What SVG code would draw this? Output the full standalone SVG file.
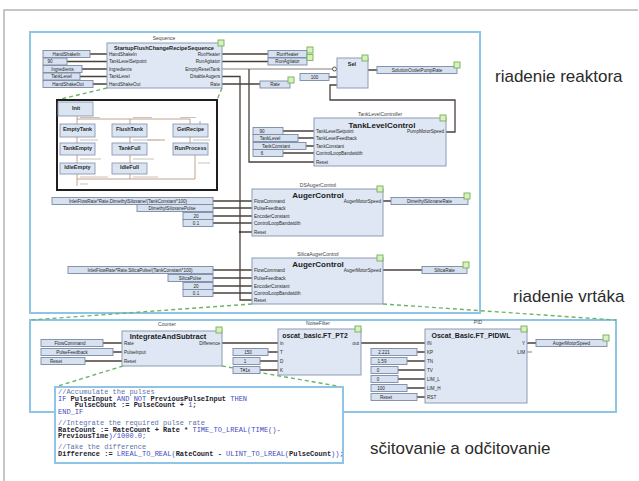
<svg xmlns="http://www.w3.org/2000/svg" width="639" height="481" viewBox="0 0 639 481">
<style>
  text { font-family: "Liberation Sans", Arial, sans-serif; fill: #2a2a2a; }
  .frame { fill: none; stroke: #b4b4b4; stroke-width: 1.5; }
  .pnl { fill: #ffffff; stroke: #8fc4e6; stroke-width: 2; }
  .blk { fill: #dee7f3; stroke: #8d9cb6; stroke-width: 1; }
  .inp { fill: #d7e1ef; stroke: #7b8aa6; stroke-width: 0.9; }
  .gsq { fill: #d9efc4; stroke: #74b24f; stroke-width: 0.9; }
  .wire { fill: none; stroke: #4a403b; stroke-width: 1.3; }
  .wl { fill: none; stroke: #7a706b; stroke-width: 0.9; }
  .dash { fill: none; stroke: #6cb46a; stroke-width: 1.4; stroke-dasharray: 4 3; }
  .tr { fill: none; stroke: #b98b6e; stroke-width: 0.8; }
  .lbl { fill: none; stroke: #c9c2bd; stroke-width: 1.2; }
  .sm { fill: #dbe5f2; stroke: #8a9ab3; stroke-width: 0.9; }
  .st { font-size: 5.5px; font-weight: bold; text-anchor: middle; }
  .p { font-size: 4.6px; }
  .pr { font-size: 4.6px; text-anchor: end; }
  .v { font-size: 4.6px; text-anchor: middle; }
  .cap { font-size: 5px; text-anchor: middle; fill: #444; }
  .ttl { font-weight: bold; text-anchor: middle; fill: #1c1c1c; }
  .big { font-size: 17px; fill: #2b2b2b; }
  .code { font-family: "Liberation Mono", "Courier New", monospace; font-size: 7px; }
  .cm { fill: #6272a8; }
  .kw { fill: #3f49c4; }
  .id { fill: #1d2330; font-weight: bold; }
</style>

<!-- page frame -->
<path class="frame" d="M4,481 V10 H638"/>

<!-- panels -->
<rect id="panel-sequence" class="pnl" x="30" y="32" width="450" height="281"/>
<rect id="panel-auger" class="pnl" x="30" y="320" width="586" height="92"/>

<!-- zoom callout lines -->
<g id="callouts">
  <path class="dash" d="M107,88 L57,100"/>
  <path class="dash" d="M222,88 L217,100"/>
  <path class="dash" d="M252,304 L30,320"/>
  <path class="dash" d="M383,304 L616,320"/>
  <path class="dash" d="M123,366 L55,387"/>
  <path class="dash" d="M222,366 L343,387"/>
</g>

<!-- connectors -->
<g id="connectors">
  <!-- Sequence inputs -->
  <path class="wire" d="M90,54 H107 M67,61.5 H107 M82,69 H107 M80,76.5 H107 M93,84 H107"/>
  <!-- Sequence outputs -->
  <path class="wire" d="M222,54 H268 M222,61.5 H268 M222,84 H260"/>
  <path class="wl" d="M222,69 H332.5"/>
  <path class="wire" d="M249,69 V162 H314"/>
  <path class="wire" d="M222,76.5 H240 V300 H252 M240,232 H252"/>
  <circle cx="240" cy="232" r="1.2" fill="#4a403b"/>
  <circle cx="334.5" cy="69" r="2" fill="#fff" stroke="#4a403b" stroke-width="0.9"/>
  <!-- Sel -->
  <path class="wire" d="M329,77 H337 M368,70 H377"/>
  <path class="wire" d="M446,132 H455 V100 H330 V85 H337"/>
  <!-- TankLevelControl inputs -->
  <path class="wire" d="M283,131 H314 M298,138 H314 M306,146 H314 M283,153 H314"/>
  <!-- DSAugerControl -->
  <path class="wire" d="M213,201 H252 M213,208 H252 M213,216 H252 M213,223 H252 M383,201 H391"/>
  <!-- SilicaAugerControl -->
  <path class="wire" d="M213,270 H252 M213,278 H252 M213,286 H252 M213,293 H252 M383,270 H422"/>
  <!-- Counter -->
  <path class="wire" d="M103,343 H122 M113,352 H122 M85,361 H122 M222,343 H278"/>
  <!-- NoiseFilter -->
  <path class="wire" d="M268,352 H278 M260,361 H278 M260,370 H278 M361,343 H425"/>
  <!-- PID -->
  <path class="wire" d="M417,352 H425 M407,361 H425 M398,370 H425 M398,379 H425 M407,388 H425 M417,397 H425 M527,343 H536"/>
  <path class="wl" d="M527,352 H532"/>
</g>

<!-- Sequence block -->
<g id="sequence">
  <text class="cap" x="164" y="40">Sequence</text>
  <rect class="blk" x="107" y="43" width="115" height="45"/>
  <text class="ttl" x="164" y="49.5" font-size="5.6">StartupFlushChangeRecipeSequence</text>
  <rect class="gsq" x="218" y="40" width="6" height="6"/>
  <text class="p" x="109" y="55.7">HandShakeIn</text>
  <text class="p" x="109" y="63.2">TankLevelSetpoint</text>
  <text class="p" x="109" y="70.7">Ingredients</text>
  <text class="p" x="109" y="78.2">TankLevel</text>
  <text class="p" x="109" y="85.7">HandShakeOut</text>
  <text class="pr" x="220" y="55.7">RunHeater</text>
  <text class="pr" x="220" y="63.2">RunAgitator</text>
  <text class="pr" x="220" y="70.7">EmptyResetTank</text>
  <text class="pr" x="220" y="78.2">DisableAugers</text>
  <text class="pr" x="220" y="85.7">Rate</text>
</g>
<g id="sequence-inputs">
  <rect class="inp" x="43" y="50.5" width="47" height="7"/><text class="v" x="66.5" y="55.7">HandShakeIn</text>
  <rect class="inp" x="43" y="58" width="24" height="7"/><text class="v" x="50" y="63.2">90</text>
  <rect class="inp" x="43" y="65.5" width="39" height="7"/><text class="v" x="62.5" y="70.7">Ingredients</text>
  <rect class="inp" x="43" y="73" width="37" height="7"/><text class="v" x="61.5" y="78.2">TankLevel</text>
  <rect class="inp" x="43" y="80.5" width="50" height="7"/><text class="v" x="68" y="85.7">HandShakeOut</text>
</g>
<g id="sequence-outputs">
  <rect class="inp" x="268" y="50.5" width="39" height="7"/><text class="v" x="287.5" y="55.7">RunHeater</text>
  <rect class="gsq" x="307" y="47" width="6" height="6"/>
  <rect class="inp" x="268" y="58" width="39" height="7"/><text class="v" x="287.5" y="63.2">RunAgitator</text>
  <rect class="gsq" x="307" y="54.5" width="6" height="6"/>
  <rect class="inp" x="260" y="81" width="30" height="7"/><text class="v" x="275" y="86.2">Rate</text>
  <rect class="gsq" x="288" y="77" width="6" height="6"/>
</g>

<!-- Sel block -->
<g id="sel">
  <rect class="inp" x="300" y="73.5" width="29" height="7"/><text class="v" x="314.5" y="78.7">100</text>
  <rect class="blk" x="337" y="58" width="31" height="30"/>
  <text class="ttl" x="352" y="66" font-size="5.5">Sel</text>
  <rect class="gsq" x="362" y="55" width="6" height="6"/>
  <rect class="inp" x="377" y="66.5" width="80" height="7"/><text class="v" x="417" y="71.7">SolutionOutletPumpRate</text>
  <rect class="gsq" x="454" y="62" width="6" height="6"/>
</g>

<!-- TankLevelControl block -->
<g id="tank-level-control">
  <text class="cap" x="380" y="116">TankLevelController</text>
  <rect class="blk" x="314" y="118" width="132" height="48"/>
  <text class="ttl" x="382" y="127.5" font-size="8">TankLevelControl</text>
  <rect class="gsq" x="440" y="115" width="6" height="6"/>
  <text class="p" x="316" y="132.7">TankLevelSetpoint</text>
  <text class="p" x="316" y="139.7">TankLevelFeedback</text>
  <text class="p" x="316" y="147.7">TankConstant</text>
  <text class="p" x="316" y="154.7">ControlLoopBandwidth</text>
  <text class="p" x="316" y="163.7">Reset</text>
  <text class="pr" x="444" y="132.7">PumpMotorSpeed</text>
  <rect class="inp" x="253" y="127.5" width="30" height="7"/><text class="v" x="262" y="132.7">90</text>
  <rect class="inp" x="253" y="134.5" width="45" height="7"/><text class="v" x="270" y="139.7">TankLevel</text>
  <rect class="inp" x="253" y="142.5" width="53" height="7"/><text class="v" x="276" y="147.7">TankConstant</text>
  <rect class="inp" x="253" y="149.5" width="30" height="7"/><text class="v" x="262" y="154.7">6</text>
</g>

<!-- state chart -->
<g id="state-chart">
  <rect x="57" y="100" width="160" height="90" fill="#fff" stroke="#1e1e1e" stroke-width="2"/>
  <path class="tr" d="M77,116 V124 M77,119 H190 V124 M130,119 V124"/>
  <path class="tr" d="M77,137 V143 M130,137 V143 M190,137 V143"/>
  <path class="tr" d="M77,155 V163 M130,155 V163 M195,155 V179 H77 M77,174 V186 M130,174 V179"/>
  <path class="tr" d="M147,140 H165 M200,124 V121"/>
  <path class="lbl" d="M80,117.5 H100 M133,117.5 H152 M180,117.5 H196 M80,140 H98 M133,140 H160 M193,140 H210 M80,159 H101 M133,159 H154 M198,163 H210 M80,177 H108 M133,177 H158 M80,184 H88"/>
  <g id="s-init"><rect class="sm" x="58" y="102" width="35" height="14"/><text class="st" x="76" y="109.5">Init</text></g>
  <g id="s-emptytank"><rect class="sm" x="60" y="124" width="35" height="13"/><text class="st" x="77.5" y="131">EmptyTank</text></g>
  <g id="s-flushtank"><rect class="sm" x="112" y="124" width="35" height="13"/><text class="st" x="129.5" y="131">FlushTank</text></g>
  <g id="s-getrecipe"><rect class="sm" x="173" y="124" width="35" height="13"/><text class="st" x="190.5" y="131">GetRecipe</text></g>
  <g id="s-tankempty"><rect class="sm" x="60" y="143" width="35" height="12"/><text class="st" x="77.5" y="149.5">TankEmpty</text></g>
  <g id="s-tankfull"><rect class="sm" x="112" y="143" width="35" height="12"/><text class="st" x="129.5" y="149.5">TankFull</text></g>
  <g id="s-runprocess"><rect class="sm" x="173" y="143" width="35" height="12"/><text class="st" x="190.5" y="149.5">RunProcess</text></g>
  <g id="s-idleempty"><rect class="sm" x="60" y="163" width="35" height="11"/><text class="st" x="77.5" y="169">IdleEmpty</text></g>
  <g id="s-idlefull"><rect class="sm" x="112" y="163" width="35" height="11"/><text class="st" x="129.5" y="169">IdleFull</text></g>
</g>

<!-- DSAugerControl block -->
<g id="ds-auger-control">
  <text class="cap" x="318" y="187">DSAugerControl</text>
  <rect class="blk" x="252" y="189" width="131" height="47"/>
  <text class="ttl" x="318" y="198" font-size="8">AugerControl</text>
  <rect class="gsq" x="377" y="186" width="6" height="6"/>
  <text class="p" x="254" y="202.7">FlowCommand</text>
  <text class="p" x="254" y="209.7">PulseFeedback</text>
  <text class="p" x="254" y="217.7">EncoderConstant</text>
  <text class="p" x="254" y="224.7">ControlLoopBandwidth</text>
  <text class="p" x="254" y="233.7">Reset</text>
  <text class="pr" x="381" y="202.7">AugerMotorSpeed</text>
  <rect class="inp" x="52" y="197.5" width="161" height="7"/><text class="v" x="128" y="202.7">InletFlowRate*Rate.DimethylSiloxane/(TankConstant*100)</text>
  <rect class="inp" x="137" y="204.5" width="76" height="7"/><text class="v" x="172" y="209.7">DimethylSiloxanePulse</text>
  <rect class="inp" x="183" y="212.5" width="30" height="7"/><text class="v" x="196" y="217.7">20</text>
  <rect class="inp" x="183" y="219.5" width="30" height="7"/><text class="v" x="196" y="224.7">0.1</text>
  <rect class="inp" x="391" y="197.5" width="77" height="7"/><text class="v" x="429.5" y="202.7">DimethylSiloxaneRate</text>
  <rect class="gsq" x="464" y="193" width="6" height="6"/>
</g>

<!-- SilicaAugerControl block -->
<g id="silica-auger-control">
  <text class="cap" x="318" y="256">SilicaAugerControl</text>
  <rect class="blk" x="252" y="258" width="131" height="46"/>
  <text class="ttl" x="318" y="267" font-size="8">AugerControl</text>
  <rect class="gsq" x="377" y="255" width="6" height="6"/>
  <text class="p" x="254" y="272.2">FlowCommand</text>
  <text class="p" x="254" y="279.7">PulseFeedback</text>
  <text class="p" x="254" y="287.7">EncoderConstant</text>
  <text class="p" x="254" y="294.7">ControlLoopBandwidth</text>
  <text class="p" x="254" y="301.7">Reset</text>
  <text class="pr" x="381" y="271.7">AugerMotorSpeed</text>
  <rect class="inp" x="68" y="266.5" width="145" height="7"/><text class="v" x="140" y="271.7">InletFlowRate*Rate.SilicaPulse/(TankConstant*100)</text>
  <rect class="inp" x="168" y="274.5" width="45" height="7"/><text class="v" x="190" y="279.7">SilicaPulse</text>
  <rect class="inp" x="183" y="282.5" width="30" height="7"/><text class="v" x="196" y="287.7">20</text>
  <rect class="inp" x="183" y="289.5" width="30" height="7"/><text class="v" x="196" y="294.7">0.1</text>
  <rect class="inp" x="422" y="266.5" width="45" height="7"/><text class="v" x="444.5" y="271.7">SilicaRate</text>
  <rect class="gsq" x="463" y="262" width="6" height="6"/>
</g>

<!-- Counter block -->
<g id="counter">
  <text class="cap" x="167" y="326">Counter</text>
  <rect class="blk" x="122" y="331" width="100" height="35"/>
  <text class="ttl" x="168" y="339" font-size="7.5" font-weight="normal">IntegrateAndSubtract</text>
  <rect class="gsq" x="216" y="327" width="6" height="6"/>
  <text class="p" x="124" y="344.7">Rate</text>
  <text class="p" x="124" y="353.7">PulseInput</text>
  <text class="p" x="124" y="362.7">Reset</text>
  <text class="pr" x="220" y="344.7">Difference</text>
  <rect class="inp" x="41" y="339.5" width="62" height="7"/><text class="v" x="70" y="344.7">FlowCommand</text>
  <rect class="inp" x="41" y="348.5" width="72" height="7"/><text class="v" x="72" y="353.7">PulseFeedback</text>
  <rect class="inp" x="41" y="357.5" width="44" height="7"/><text class="v" x="56" y="362.7">Reset</text>
</g>

<!-- NoiseFilter block -->
<g id="noise-filter">
  <text class="cap" x="318" y="325">NoiseFilter</text>
  <rect class="blk" x="278" y="329" width="83" height="46"/>
  <text class="ttl" x="315" y="337.5" font-size="6.8">oscat_basic.FT_PT2</text>
  <rect class="gsq" x="355" y="326" width="6" height="6"/>
  <text class="p" x="280" y="344.7">in</text>
  <text class="p" x="280" y="353.7">T</text>
  <text class="p" x="280" y="362.7">D</text>
  <text class="p" x="280" y="371.7">K</text>
  <text class="pr" x="359" y="344.7">out</text>
  <rect class="inp" x="233" y="348.5" width="35" height="7"/><text class="v" x="248" y="353.7">150</text>
  <rect class="inp" x="233" y="357.5" width="27" height="7"/><text class="v" x="245" y="362.7">1</text>
  <rect class="inp" x="233" y="366.5" width="27" height="7"/><text class="v" x="245" y="371.7">T#1s</text>
</g>

<!-- PID block -->
<g id="pid">
  <text class="cap" x="478" y="324">PID</text>
  <rect class="blk" x="425" y="329" width="102" height="74"/>
  <text class="ttl" x="471" y="337.5" font-size="7">Oscat_Basic.FT_PIDWL</text>
  <rect class="gsq" x="521" y="326" width="6" height="6"/>
  <text class="p" x="427" y="344.7">IN</text>
  <text class="p" x="427" y="353.7">KP</text>
  <text class="p" x="427" y="362.7">TN</text>
  <text class="p" x="427" y="371.7">TV</text>
  <text class="p" x="427" y="380.7">LIM_L</text>
  <text class="p" x="427" y="389.7">LIM_H</text>
  <text class="p" x="427" y="398.7">RST</text>
  <text class="pr" x="525" y="344.7">Y</text>
  <text class="pr" x="525" y="353.7">LIM</text>
  <rect class="inp" x="371" y="348.5" width="46" height="7"/><text class="v" x="384" y="353.7">2.221</text>
  <rect class="inp" x="371" y="357.5" width="36" height="7"/><text class="v" x="382" y="362.7">1.59</text>
  <rect class="inp" x="371" y="366.5" width="27" height="7"/><text class="v" x="378" y="371.7">0</text>
  <rect class="inp" x="371" y="375.5" width="27" height="7"/><text class="v" x="378" y="380.7">0</text>
  <rect class="inp" x="371" y="384.5" width="36" height="7"/><text class="v" x="381" y="389.7">100</text>
  <rect class="inp" x="371" y="393.5" width="46" height="7"/><text class="v" x="386" y="398.7">Reset</text>
  <rect class="inp" x="536" y="339.5" width="71" height="7"/><text class="v" x="571.5" y="344.7">AugerMotorSpeed</text>
  <rect class="gsq" x="603" y="335" width="6" height="6"/>
</g>

<!-- structured text body of IntegrateAndSubtract -->
<g id="code">
  <rect class="pnl" x="55" y="387" width="288" height="76"/>
  <text class="code" x="58" y="394"><tspan class="cm">//Accumulate the pulses</tspan></text>
  <text class="code" x="58" y="400.5"><tspan class="kw">IF</tspan> <tspan class="id">PulseInput</tspan> <tspan class="kw">AND NOT</tspan> <tspan class="id">PreviousPulseInput</tspan> <tspan class="kw">THEN</tspan></text>
  <text class="code" x="74.8" y="407"><tspan class="id">PulseCount</tspan> <tspan class="id">:=</tspan> <tspan class="id">PulseCount</tspan> <tspan class="id">+</tspan> <tspan class="kw">1</tspan><tspan class="id">;</tspan></text>
  <text class="code" x="58" y="413.5"><tspan class="kw">END_IF</tspan></text>
  <text class="code" x="58" y="425"><tspan class="cm">//Integrate the required pulse rate</tspan></text>
  <text class="code" x="58" y="431.5"><tspan class="id">RateCount</tspan> <tspan class="id">:=</tspan> <tspan class="id">RateCount</tspan> <tspan class="id">+</tspan> <tspan class="id">Rate</tspan> <tspan class="id">*</tspan> <tspan class="kw">TIME_TO_LREAL(TIME()-</tspan></text>
  <text class="code" x="58" y="438"><tspan class="id">PreviousTime</tspan><tspan class="kw">)/1000.0;</tspan></text>
  <text class="code" x="58" y="449"><tspan class="cm">//Take the difference</tspan></text>
  <text class="code" x="58" y="455.5"><tspan class="id">Difference</tspan> <tspan class="id">:=</tspan> <tspan class="kw">LREAL_TO_REAL(</tspan><tspan class="id">RateCount</tspan> <tspan class="id">-</tspan> <tspan class="kw">ULINT_TO_LREAL(</tspan><tspan class="id">PulseCount</tspan><tspan class="kw">));</tspan></text>
</g>

<!-- section captions -->
<text class="big" x="495" y="82">riadenie reaktora</text>
<text class="big" x="513" y="302">riadenie vrtáka</text>
<text class="big" x="370" y="454">sčitovanie a odčitovanie</text>
</svg>
